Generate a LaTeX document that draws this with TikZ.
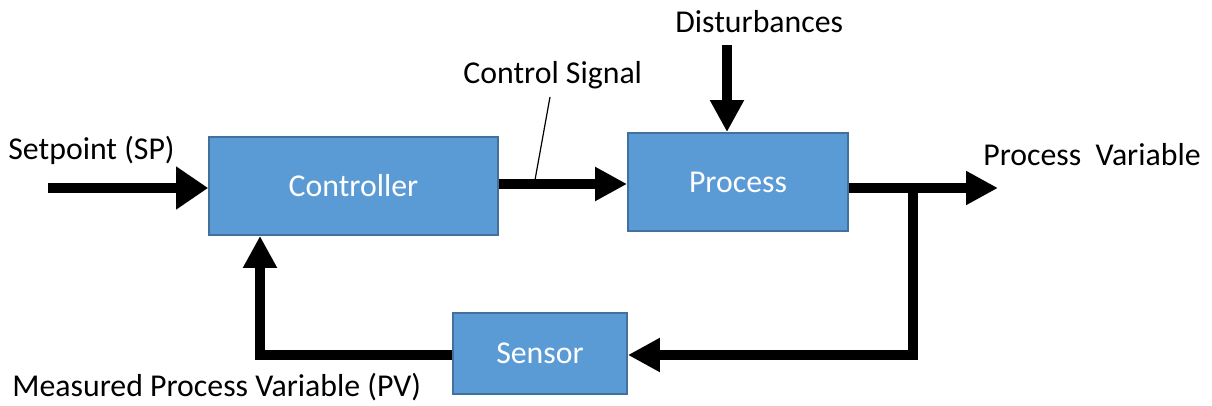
\documentclass[tikz,border=0pt]{standalone}
\usepackage{fontspec}
\setmainfont{Carlito}
\usetikzlibrary{arrows.meta}
\definecolor{boxfill}{HTML}{5B9BD5}
\definecolor{boxline}{HTML}{41719C}
\tikzset{
  block/.style={draw=boxline, line width=0.9pt, fill=boxfill, text=white,
    font=\fontsize{15.9}{18}\selectfont, inner sep=0pt, anchor=center},
  lbl/.style={font=\fontsize{15.9}{18}\selectfont, inner sep=0pt, anchor=west},
  flow/.style={line width=5pt, line join=miter, -{Triangle[length=16pt,width=16pt]}},
  bigflow/.style={line width=5pt, line join=miter, -{Triangle[length=16pt,width=20.5pt]}},
}
\begin{document}
\begin{tikzpicture}[x=0.5pt,y=-0.5pt]
\useasboundingbox (0,0) rectangle (1212,406);

% blocks
\node[block, minimum width=144.5pt, minimum height=49pt] (ctrl) at (353.5,186) {Controller};
\node[block, minimum width=110pt, minimum height=49pt] (proc) at (738,182) {Process};
\node[block, minimum width=87pt, minimum height=40.5pt] (sens) at (540,353.5) {Sensor};

% labels
\node[lbl] (sp) at (8,150) {Setpoint (SP)};
\node[lbl] (cs) at (463,75) {Control Signal};
\node[lbl] (dist) at (675,22) {Disturbances};
\node[lbl] (pv) at (983,155) {Process\ \ Variable};
\node[lbl] (mpv) at (12,387) {Measured Process Variable (PV)};

% helper points
\coordinate (spin) at (48,188);
\coordinate (sig) at (0,184);
\coordinate (dtop) at (727,45);
\coordinate (outy) at (0,188);
\coordinate (pvend) at (998,188);
\coordinate (tap) at (913,188);
\coordinate (fb) at (913,355);
\coordinate (fbl) at (260,355);
\coordinate (lead1) at (550,97);
\coordinate (lead2) at (535,180);

% signal paths
\draw[bigflow] (spin) -- (ctrl.west |- spin);
\draw[flow] (ctrl.east |- sig) -- (proc.west |- sig);
\draw[flow] (dtop) -- (proc.north -| dtop);
\draw[flow] (proc.east |- outy) -- (pvend);
\draw[flow] (tap) -- (fb) -- (sens.east |- fb);
\draw[flow] (sens.west |- fb) -- (fbl) -- (ctrl.south -| fbl);

% leader line for the control signal label
\draw[line width=0.6pt] (lead1) -- (lead2);
\end{tikzpicture}
\end{document}
